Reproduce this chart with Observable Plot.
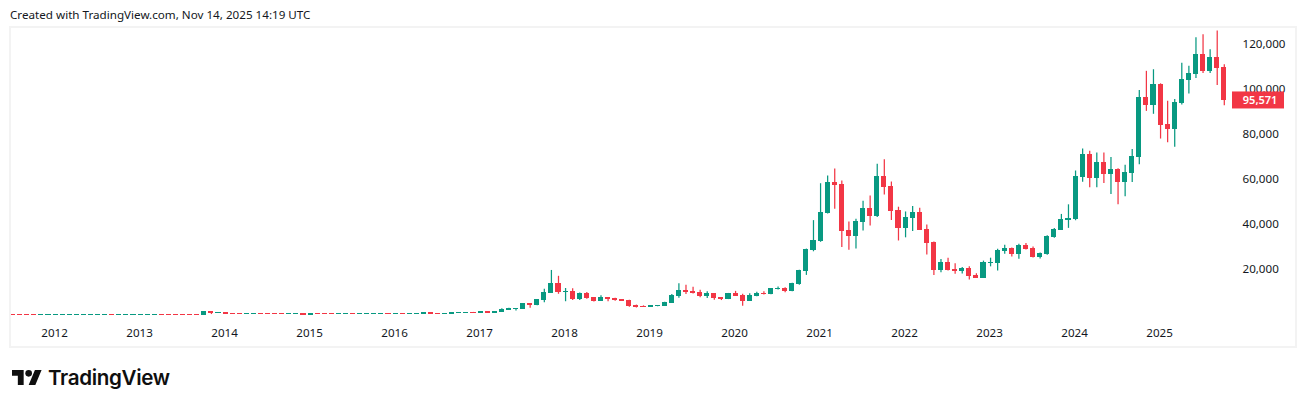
<!DOCTYPE html>
<html><head><meta charset="utf-8">
<script src="https://cdn.jsdelivr.net/npm/d3@7"></script>
<script src="https://cdn.jsdelivr.net/npm/@observablehq/plot@0.6"></script>
<style>
html,body{margin:0;padding:0;background:#fff;width:1306px;height:407px;overflow:hidden}
#head{position:absolute;left:10px;top:8px;font:11.65px "Noto Sans",sans-serif;color:#131722;white-space:nowrap;line-height:14px}
#box{position:absolute;left:10px;top:27px;width:1286px;height:320px;outline:2px solid #f3f3f3;outline-offset:-1px}
#box svg{display:block;background:transparent}
#logo{position:absolute;left:12px;top:366px;display:flex;align-items:center;height:22px}
#logo span{font:600 20.6px Inter,sans-serif;color:#0f0f0f;margin-left:6px;letter-spacing:-.35px}
</style></head><body>
<div id="head">Created with TradingView.com, Nov 14, 2025 14:19 UTC</div>
<div id="box"></div>
<div id="logo"><svg width="30" height="15" viewBox="0 4 36 18"><path fill="#0f0f0f" d="M14 22H7V11H0V4h14v18zM28 22h-8l7.5-18h8L28 22z"/><circle fill="#0f0f0f" cx="20" cy="8" r="4"/></svg><span>TradingView</span></div>
<script>
// monthly candles Aug 2011 .. Nov 2025 (month index 0 = Jan 2012)
const firstIndex = -5;
const opens = [
 13.1,8.2,5.1,3.2,3.0,
 4.7,4.8,4.9,5,5.2,5.3,6.6,9.3,10,12.4,11,12.5,
 13.5,20.4,33,93,139,129,97,135,134,205,204,1130,
 730,800,570,445,440,625,640,585,480,385,340,318,
 320,217,254,245,236,230,263,285,230,236,315,378,
 430,370,437,416,450,530,670,620,575,608,700,870,
 965,965,1190,1080,1350,2300,2480,2870,4700,4340,6450,9950,
 13880,10100,10300,6900,9240,7490,6390,7730,7010,6625,6300,4010,
 3740,3450,3830,4100,5270,8550,10800,10050,9600,8300,9150,7570,
 7190,9350,8540,6410,8620,9450,9140,11350,11650,10780,13800,19700,
 29000,33100,45200,58800,57700,37300,35000,41500,47100,43800,61300,57000,
 46200,38500,43200,45500,37650,31800,19950,23300,20050,19400,20500,17150,
 16550,23100,23150,28450,29230,27200,30450,29200,25950,26960,34650,37700,
 42260,42580,61130,71290,60670,67500,62700,64600,58970,63300,70290,96400,
 93380,102400,84350,82550,94200,104600,107130,115770,108240,114040,109600];
const highs = [
 13.5,8.3,5.2,3.5,4.8,
 7.2,6.2,5.4,5.3,5.3,6.7,9.4,15.4,12.4,12.9,13,14,
 21,33,95,266,147,130,110,140,145,230,1163,1163,
 1020,850,710,530,635,680,660,600,490,415,450,380,
 320,265,300,260,248,268,320,285,240,340,500,470,
 465,450,440,470,540,780,680,620,610,740,780,965,
 1150,1205,1350,1350,2760,2980,2920,4980,4980,6470,11400,19800,
 17200,11780,11700,9750,10000,7760,8500,7760,7410,6780,6560,4400,
 4070,4200,4130,5640,9100,13880,13200,12330,10950,10370,9520,7750,
 9580,10500,9190,9480,10070,10380,11430,12470,12080,14100,19860,29300,
 41950,58350,61800,64900,59600,41300,42600,50500,52900,67000,69000,59100,
 47900,45800,48200,47400,40000,32400,24700,25200,22800,21100,21450,18350,
 23950,25250,29200,31000,29800,31400,31800,30200,27500,35200,38400,44700,
 48970,64000,73800,72750,71950,72000,70000,65000,66500,73600,99800,108300,
 109000,102750,95000,95800,111900,110500,123200,124500,117900,126200,111200];
const lows = [
 7.5,4.9,2.2,2,2.9,
 4.2,4.2,4.7,4.9,5.0,5.2,6.5,7.1,9.9,10.2,10.8,12.5,
 13.3,19.6,33,50,79,86,65,105,110,102,200,200,
 730,500,420,360,420,530,560,450,370,275,320,300,
 165,212,235,212,225,220,253,198,225,236,300,350,
 350,368,395,415,440,530,600,530,570,605,690,860,
 750,910,890,1060,1340,2050,1830,2700,2970,4120,5500,9700,
 9200,5900,6500,6430,7050,5770,6070,5880,6100,6200,3500,3120,
 3350,3390,3680,4100,5270,7450,9100,9320,7710,7300,6520,6420,
 6850,8440,3850,6150,8120,8900,8950,11110,9880,10370,13200,17600,
 28100,32300,44900,47000,30000,28800,29300,37300,39600,43300,53300,42000,
 32900,34300,37100,37600,26700,17600,18750,19500,18100,18200,15500,16300,
 16500,21400,19550,26950,25800,24800,28850,25300,24900,26550,34100,37600,
 38500,41900,59000,56500,56550,58400,53500,49000,52500,58900,66800,90500,
 89200,78200,76600,74500,93300,98200,105100,107300,107300,102000,93000];
const closes = [
 8.2,5.1,3.2,3.0,4.7,
 5.5,4.9,5.0,5.2,5.3,6.6,9.3,10,12.4,11,12.5,13.5,
 20.4,33,93,139,129,97,96,134,133,204,1130,730,
 800,570,445,440,625,640,585,480,385,340,375,320,
 217,254,245,236,230,263,285,230,236,315,378,430,
 370,437,416,450,530,670,620,575,608,700,870,965,
 955,1190,1080,1350,2300,2480,2870,4700,4340,6450,9950,13880,
 10100,10300,6900,9240,7490,6390,7730,7010,6625,6300,4010,3740,
 3450,3830,4100,5270,8550,10800,10050,9600,8300,9150,7570,7190,
 9350,8540,6410,8620,9450,9140,11350,11650,10780,13800,19700,29000,
 33100,45200,58800,57700,37300,35000,41500,47100,43800,61300,57000,46200,
 38500,43200,45500,37650,31800,19950,23300,20050,19400,20500,17150,16550,
 23100,23150,28450,29230,27200,30450,29200,25950,26960,34650,37700,42260,
 42580,61130,71290,60670,67500,62700,64600,58970,63300,70290,96400,93380,
 102400,84350,82550,94200,104600,107130,115770,108240,114040,109600,95571];
const yearLabels = [2012,2013,2014,2015,2016,2017,2018,2019,2020,2021,2022,2023,2024,2025];
const priceTicks = [20000,40000,60000,80000,100000,120000];
const lastPrice = 95571;

const GREEN = "#089981", RED = "#F23645";
const candles = opens.map((o,k)=>({i:firstIndex+k,o,h:highs[k],l:lows[k],c:closes[k],col:closes[k]>=o?GREEN:RED}));
const lastI = candles[candles.length-1].i;
const yearAt = new Map(yearLabels.map((y,k)=>[12*k+1,String(y)]));
const fmt = d3.format(",");

const chart = Plot.plot({
  width:1286, height:320,
  marginLeft:0, marginRight:54, marginTop:0, marginBottom:29,
  x:{type:"linear",domain:[-5,166],range:[2.6,1213.8]},
  y:{type:"linear",domain:[0,127111],range:[287.5,1.5]},
  style:{background:"transparent",fontFamily:'"Noto Sans",sans-serif',fontSize:"11.6px",color:"#131722"},
  marks:[
    Plot.ruleX(candles,{x:"i",y1:"l",y2:"h",stroke:"col",strokeWidth:1.25}),
    Plot.rect(candles,{x1:d=>d.i-.36,x2:d=>d.i+.36,y1:"o",y2:"c",fill:"col",insetTop:-.5,insetBottom:-.5,shapeRendering:"crispEdges"}),
    Plot.axisX({ticks:[...yearAt.keys()],tickFormat:d=>yearAt.get(d),tickSize:0,tickPadding:10,dx:-1,label:null,fill:"#131722",fontVariant:"normal"}),
    Plot.axisY({anchor:"right",ticks:priceTicks,tickFormat:fmt,tickSize:0,tickPadding:0,dy:-1,label:null,fill:"#131722",textAnchor:"start",fontVariant:"normal"}),
    Plot.rect([lastPrice],{x1:()=>lastI,x2:()=>lastI,y1:d=>d,y2:d=>d,fill:RED,insetLeft:8.2,insetRight:-60.2,insetTop:-8,insetBottom:-9}),
    Plot.text([lastPrice],{x:()=>lastI,y:d=>d,text:d=>fmt(d),fill:"#fff",fontSize:11,fontWeight:600,textAnchor:"start",dx:18.5,dy:1,fontVariant:"normal"})
  ]
});
document.getElementById("box").appendChild(chart);
</script>
</body></html>
